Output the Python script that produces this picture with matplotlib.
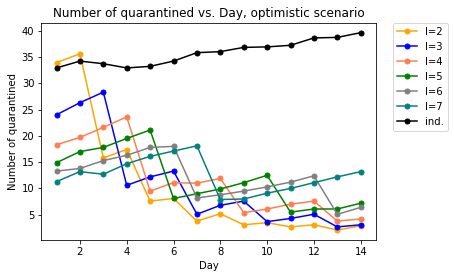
import matplotlib
matplotlib.use("Agg")
import matplotlib.pyplot as plt

# days and number of quarantined per scenario
days = list(range(1, 15))
l2 = [33.9, 35.6, 15.8, 17.4, 7.6, 8.1, 3.8, 5.2, 3.1, 3.5, 2.7, 3.1, 2.1, 2.9]
l3 = [24.0, 26.3, 28.3, 10.6, 12.2, 13.3, 5.1, 6.8, 7.6, 3.7, 4.3, 5.1, 2.7, 3.1]
l4 = [18.3, 19.7, 21.6, 23.6, 9.5, 11.1, 11.0, 11.9, 5.4, 6.1, 7.0, 7.6, 3.8, 4.2]
l5 = [14.9, 17.0, 17.8, 19.5, 21.1, 8.1, 9.0, 9.9, 11.1, 12.5, 5.5, 6.1, 6.1, 7.2]
l6 = [13.3, 13.8, 15.3, 16.3, 17.8, 18.0, 8.2, 8.8, 9.5, 10.3, 11.2, 12.4, 5.1, 6.4]
l7 = [11.3, 13.2, 12.7, 14.7, 16.1, 17.1, 18.1, 7.9, 8.0, 9.1, 10.0, 11.1, 12.2, 13.2]
ind = [32.9, 34.2, 33.7, 32.9, 33.2, 34.2, 35.8, 36.0, 36.8, 36.9, 37.2, 38.6, 38.7, 39.6]

series = [l2, l3, l4, l5, l6, l7, ind]
labels = ["l=2", "l=3", "l=4", "l=5", "l=6", "l=7", "ind."]
colors = ["orange", "blue", "coral", "green", "gray", "teal", "black"]

# saved at 72 dpi, so sizes are in pixels
fig, ax = plt.subplots(figsize=(454 / 72, 278 / 72), dpi=72)
for vals, lab, col in zip(series, labels, colors):
    ax.plot(days, vals, marker="o", markersize=5, color=col, label=lab)

ax.set_title("Number of quarantined vs. Day, optimistic scenario")
ax.set_xlabel("Day")
ax.set_ylabel("Number of quarantined")
ax.set_xticks([2, 4, 6, 8, 10, 12, 14])
ax.set_yticks([5, 10, 15, 20, 25, 30, 35, 40])
ax.legend(loc="upper left", bbox_to_anchor=(1.05, 1), borderaxespad=0)

fig.subplots_adjust(left=0.091, right=0.828, bottom=0.137, top=0.918)
fig.savefig("out.png", dpi=72)
